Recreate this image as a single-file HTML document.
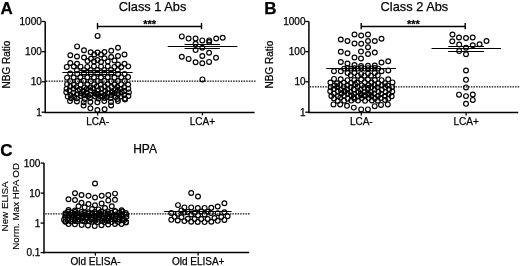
<!DOCTYPE html>
<html><head><meta charset="utf-8"><style>
html,body{margin:0;padding:0;background:#fff;}
svg{display:block;filter:grayscale(1);}
text{font-family:"Liberation Sans", sans-serif;fill:#000;stroke:#000;stroke-width:0.25px;}
</style></head><body>
<svg width="520" height="266" viewBox="0 0 520 266">
<rect width="520" height="266" fill="#fff"/>
<line x1="45.20" y1="21.40" x2="45.20" y2="112.90" stroke="#000" stroke-width="1.5"/>
<line x1="41.60" y1="21.50" x2="45.20" y2="21.50" stroke="#000" stroke-width="1.3"/>
<text x="41.80" y="25.00" font-size="10" text-anchor="end">1000</text>
<line x1="41.60" y1="51.70" x2="45.20" y2="51.70" stroke="#000" stroke-width="1.3"/>
<text x="41.80" y="55.20" font-size="10" text-anchor="end">100</text>
<line x1="41.60" y1="81.80" x2="45.20" y2="81.80" stroke="#000" stroke-width="1.3"/>
<text x="41.80" y="85.30" font-size="10" text-anchor="end">10</text>
<line x1="41.60" y1="112.20" x2="45.20" y2="112.20" stroke="#000" stroke-width="1.3"/>
<text x="41.80" y="115.70" font-size="10" text-anchor="end">1</text>
<line x1="44.50" y1="112.50" x2="254.60" y2="112.50" stroke="#000" stroke-width="1.3"/>
<line x1="97.60" y1="112.50" x2="97.60" y2="115.40" stroke="#000" stroke-width="1.3"/>
<line x1="202.40" y1="112.50" x2="202.40" y2="115.40" stroke="#000" stroke-width="1.3"/>
<text x="97.60" y="125.20" font-size="10" text-anchor="middle">LCA-</text>
<text x="202.40" y="125.20" font-size="10" text-anchor="middle">LCA+</text>
<line x1="46.00" y1="81.10" x2="256.00" y2="81.10" stroke="#111" stroke-width="1.2" stroke-dasharray="1.5,1.1"/>
<line x1="97.50" y1="26.50" x2="201.50" y2="26.50" stroke="#000" stroke-width="1.4"/>
<line x1="97.50" y1="23.00" x2="97.50" y2="29.20" stroke="#000" stroke-width="1.4"/>
<line x1="201.50" y1="23.00" x2="201.50" y2="29.20" stroke="#000" stroke-width="1.4"/>
<text x="149.70" y="28.00" font-size="11" text-anchor="middle" font-weight="bold">***</text>
<text x="152.50" y="10.60" font-size="12.8" text-anchor="middle">Class 1 Abs</text>
<text x="0.40" y="14.00" font-size="17" text-anchor="start" font-weight="bold">A</text>
<text x="10.40" y="64.60" font-size="10" text-anchor="middle" transform="rotate(-90 10.40 64.60)">NBG Ratio</text>
<line x1="308.90" y1="21.40" x2="308.90" y2="112.90" stroke="#000" stroke-width="1.5"/>
<line x1="305.30" y1="21.50" x2="308.90" y2="21.50" stroke="#000" stroke-width="1.3"/>
<text x="305.50" y="25.00" font-size="10" text-anchor="end">1000</text>
<line x1="305.30" y1="51.70" x2="308.90" y2="51.70" stroke="#000" stroke-width="1.3"/>
<text x="305.50" y="55.20" font-size="10" text-anchor="end">100</text>
<line x1="305.30" y1="81.80" x2="308.90" y2="81.80" stroke="#000" stroke-width="1.3"/>
<text x="305.50" y="85.30" font-size="10" text-anchor="end">10</text>
<line x1="305.30" y1="112.20" x2="308.90" y2="112.20" stroke="#000" stroke-width="1.3"/>
<text x="305.50" y="115.70" font-size="10" text-anchor="end">1</text>
<line x1="308.20" y1="112.50" x2="518.30" y2="112.50" stroke="#000" stroke-width="1.3"/>
<line x1="361.30" y1="112.50" x2="361.30" y2="115.40" stroke="#000" stroke-width="1.3"/>
<line x1="466.10" y1="112.50" x2="466.10" y2="115.40" stroke="#000" stroke-width="1.3"/>
<text x="361.30" y="125.20" font-size="10" text-anchor="middle">LCA-</text>
<text x="466.10" y="125.20" font-size="10" text-anchor="middle">LCA+</text>
<line x1="309.70" y1="86.80" x2="519.70" y2="86.80" stroke="#111" stroke-width="1.2" stroke-dasharray="1.5,1.1"/>
<line x1="361.20" y1="26.50" x2="465.20" y2="26.50" stroke="#000" stroke-width="1.4"/>
<line x1="361.20" y1="23.00" x2="361.20" y2="29.20" stroke="#000" stroke-width="1.4"/>
<line x1="465.20" y1="23.00" x2="465.20" y2="29.20" stroke="#000" stroke-width="1.4"/>
<text x="413.40" y="28.00" font-size="11" text-anchor="middle" font-weight="bold">***</text>
<text x="414.40" y="10.60" font-size="12.8" text-anchor="middle">Class 2 Abs</text>
<text x="264.20" y="14.00" font-size="17" text-anchor="start" font-weight="bold">B</text>
<text x="272.60" y="64.60" font-size="10" text-anchor="middle" transform="rotate(-90 272.60 64.60)">NBG Ratio</text>
<line x1="62.30" y1="72.50" x2="132.70" y2="72.50" stroke="#000" stroke-width="1.2"/>
<line x1="80.00" y1="70.50" x2="115.00" y2="70.50" stroke="#000" stroke-width="1.0"/>
<line x1="80.00" y1="74.50" x2="115.00" y2="74.50" stroke="#000" stroke-width="1.0"/>
<line x1="167.70" y1="46.50" x2="237.30" y2="46.50" stroke="#000" stroke-width="1.2"/>
<line x1="184.60" y1="44.50" x2="219.80" y2="44.50" stroke="#000" stroke-width="1.1"/>
<line x1="184.60" y1="48.50" x2="219.80" y2="48.50" stroke="#000" stroke-width="1.1"/>
<line x1="326.20" y1="68.50" x2="395.80" y2="68.50" stroke="#000" stroke-width="1.2"/>
<line x1="431.50" y1="48.50" x2="501.00" y2="48.50" stroke="#000" stroke-width="1.2"/>
<line x1="448.20" y1="46.50" x2="484.00" y2="46.50" stroke="#000" stroke-width="1.1"/>
<line x1="448.20" y1="51.50" x2="484.00" y2="51.50" stroke="#000" stroke-width="1.1"/>
<line x1="44.00" y1="163.00" x2="44.00" y2="253.20" stroke="#000" stroke-width="1.5"/>
<line x1="40.60" y1="163.10" x2="44.00" y2="163.10" stroke="#000" stroke-width="1.3"/>
<text x="40.40" y="166.60" font-size="10" text-anchor="end">100</text>
<line x1="40.60" y1="193.10" x2="44.00" y2="193.10" stroke="#000" stroke-width="1.3"/>
<text x="40.40" y="196.60" font-size="10" text-anchor="end">10</text>
<line x1="40.60" y1="223.10" x2="44.00" y2="223.10" stroke="#000" stroke-width="1.3"/>
<text x="40.40" y="226.60" font-size="10" text-anchor="end">1</text>
<line x1="40.60" y1="252.60" x2="44.00" y2="252.60" stroke="#000" stroke-width="1.3"/>
<text x="40.40" y="256.10" font-size="10" text-anchor="end">0.1</text>
<line x1="43.30" y1="252.50" x2="249.20" y2="252.50" stroke="#000" stroke-width="1.3"/>
<line x1="95.40" y1="252.60" x2="95.40" y2="255.60" stroke="#000" stroke-width="1.3"/>
<line x1="198.10" y1="252.60" x2="198.10" y2="255.60" stroke="#000" stroke-width="1.3"/>
<text x="95.50" y="265.10" font-size="10" text-anchor="middle">Old ELISA-</text>
<text x="198.20" y="265.10" font-size="10" text-anchor="middle">Old ELISA+</text>
<line x1="45.20" y1="213.80" x2="249.80" y2="213.80" stroke="#111" stroke-width="1.2" stroke-dasharray="1.5,1.1"/>
<text x="145.10" y="152.80" font-size="12" text-anchor="middle">HPA</text>
<text x="0.30" y="156.10" font-size="17" text-anchor="start" font-weight="bold">C</text>
<text x="8.40" y="206.40" font-size="9.8" text-anchor="middle" transform="rotate(-90 8.40 206.40)" style="stroke-width:0.15px">New ELISA</text>
<text x="18.90" y="206.40" font-size="9.8" text-anchor="middle" transform="rotate(-90 18.90 206.40)" style="stroke-width:0.15px">Norm. Max HPA OD</text>
<line x1="164.00" y1="211.50" x2="231.60" y2="211.50" stroke="#000" stroke-width="1.2"/>
<g fill="none" stroke="#000" stroke-width="1.15"><circle cx="181.80" cy="36.40" r="2.4"/><circle cx="188.60" cy="38.60" r="2.4"/><circle cx="195.60" cy="38.60" r="2.4"/><circle cx="202.30" cy="40.40" r="2.4"/><circle cx="209.20" cy="40.40" r="2.4"/><circle cx="209.20" cy="42.00" r="2.4"/><circle cx="216.20" cy="38.50" r="2.4"/><circle cx="222.70" cy="37.80" r="2.4"/><circle cx="195.60" cy="43.70" r="2.4"/><circle cx="202.30" cy="47.80" r="2.4"/><circle cx="195.60" cy="50.10" r="2.4"/><circle cx="209.10" cy="52.80" r="2.4"/><circle cx="181.80" cy="56.80" r="2.4"/><circle cx="188.60" cy="58.90" r="2.4"/><circle cx="202.30" cy="56.00" r="2.4"/><circle cx="216.00" cy="57.70" r="2.4"/><circle cx="195.60" cy="62.20" r="2.4"/><circle cx="202.30" cy="63.20" r="2.4"/><circle cx="209.10" cy="61.90" r="2.4"/><circle cx="202.40" cy="79.40" r="2.4"/><circle cx="452.50" cy="34.50" r="2.4"/><circle cx="459.00" cy="37.50" r="2.4"/><circle cx="466.00" cy="38.00" r="2.4"/><circle cx="472.70" cy="37.50" r="2.4"/><circle cx="486.50" cy="41.00" r="2.4"/><circle cx="452.30" cy="41.30" r="2.4"/><circle cx="459.20" cy="44.60" r="2.4"/><circle cx="472.80" cy="45.20" r="2.4"/><circle cx="479.60" cy="44.20" r="2.4"/><circle cx="466.00" cy="47.70" r="2.4"/><circle cx="459.20" cy="51.10" r="2.4"/><circle cx="466.00" cy="54.30" r="2.4"/><circle cx="466.00" cy="70.50" r="2.4"/><circle cx="466.00" cy="79.80" r="2.4"/><circle cx="466.00" cy="87.40" r="2.4"/><circle cx="459.00" cy="94.70" r="2.4"/><circle cx="466.00" cy="96.10" r="2.4"/><circle cx="472.80" cy="94.50" r="2.4"/><circle cx="472.80" cy="99.90" r="2.4"/><circle cx="466.00" cy="103.80" r="2.4"/><circle cx="347.60" cy="68.00" r="2.4"/><circle cx="354.40" cy="68.20" r="2.4"/><circle cx="361.20" cy="68.00" r="2.4"/><circle cx="368.00" cy="68.20" r="2.4"/><circle cx="374.80" cy="68.00" r="2.4"/><circle cx="344.20" cy="68.60" r="2.4"/><circle cx="351.00" cy="68.60" r="2.4"/><circle cx="357.80" cy="68.60" r="2.4"/><circle cx="364.60" cy="68.60" r="2.4"/><circle cx="371.40" cy="68.60" r="2.4"/><circle cx="378.20" cy="68.60" r="2.4"/><circle cx="334.00" cy="71.20" r="2.4"/><circle cx="340.80" cy="71.30" r="2.4"/><circle cx="347.60" cy="73.00" r="2.4"/><circle cx="354.40" cy="73.00" r="2.4"/><circle cx="361.20" cy="73.90" r="2.4"/><circle cx="368.00" cy="73.50" r="2.4"/><circle cx="374.80" cy="73.00" r="2.4"/><circle cx="381.60" cy="71.20" r="2.4"/><circle cx="388.30" cy="70.50" r="2.4"/><circle cx="350.80" cy="75.30" r="2.4"/><circle cx="357.80" cy="75.70" r="2.4"/><circle cx="364.40" cy="75.70" r="2.4"/><circle cx="371.00" cy="75.70" r="2.4"/><circle cx="377.80" cy="75.30" r="2.4"/><circle cx="334.00" cy="78.90" r="2.4"/><circle cx="340.70" cy="79.30" r="2.4"/><circle cx="347.50" cy="80.20" r="2.4"/><circle cx="354.30" cy="80.20" r="2.4"/><circle cx="361.20" cy="79.50" r="2.4"/><circle cx="368.00" cy="79.50" r="2.4"/><circle cx="374.80" cy="80.00" r="2.4"/><circle cx="381.60" cy="80.20" r="2.4"/><circle cx="388.20" cy="79.30" r="2.4"/><circle cx="333.50" cy="104.40" r="2.4"/><circle cx="340.20" cy="104.40" r="2.4"/><circle cx="347.00" cy="105.80" r="2.4"/><circle cx="353.80" cy="107.60" r="2.4"/><circle cx="361.20" cy="109.40" r="2.4"/><circle cx="367.90" cy="109.40" r="2.4"/><circle cx="374.70" cy="106.20" r="2.4"/><circle cx="381.00" cy="104.90" r="2.4"/><circle cx="387.80" cy="104.40" r="2.4"/><circle cx="97.60" cy="35.90" r="2.4"/><circle cx="77.10" cy="46.40" r="2.4"/><circle cx="118.00" cy="47.80" r="2.4"/><circle cx="84.00" cy="50.20" r="2.4"/><circle cx="111.20" cy="50.70" r="2.4"/><circle cx="90.70" cy="52.20" r="2.4"/><circle cx="97.50" cy="52.50" r="2.4"/><circle cx="104.50" cy="52.00" r="2.4"/><circle cx="70.30" cy="55.30" r="2.4"/><circle cx="94.30" cy="54.50" r="2.4"/><circle cx="101.00" cy="54.50" r="2.4"/><circle cx="124.50" cy="54.50" r="2.4"/><circle cx="77.00" cy="56.50" r="2.4"/><circle cx="118.00" cy="56.00" r="2.4"/><circle cx="111.20" cy="57.00" r="2.4"/><circle cx="84.00" cy="57.50" r="2.4"/><circle cx="104.50" cy="58.20" r="2.4"/><circle cx="91.00" cy="58.80" r="2.4"/><circle cx="97.50" cy="60.00" r="2.4"/><circle cx="87.50" cy="61.00" r="2.4"/><circle cx="94.00" cy="61.50" r="2.4"/><circle cx="101.00" cy="62.00" r="2.4"/><circle cx="107.80" cy="61.50" r="2.4"/><circle cx="114.50" cy="60.50" r="2.4"/><circle cx="70.30" cy="63.00" r="2.4"/><circle cx="77.00" cy="63.80" r="2.4"/><circle cx="124.50" cy="63.70" r="2.4"/><circle cx="118.00" cy="64.50" r="2.4"/><circle cx="90.40" cy="108.30" r="2.4"/><circle cx="97.40" cy="110.00" r="2.4"/><circle cx="104.60" cy="109.30" r="2.4"/><circle cx="83.60" cy="105.40" r="2.4"/><circle cx="111.10" cy="105.40" r="2.4"/><circle cx="70.00" cy="101.10" r="2.4"/><circle cx="76.90" cy="101.40" r="2.4"/><circle cx="83.70" cy="102.20" r="2.4"/><circle cx="90.40" cy="101.90" r="2.4"/><circle cx="97.40" cy="102.30" r="2.4"/><circle cx="104.30" cy="101.10" r="2.4"/><circle cx="111.00" cy="102.00" r="2.4"/><circle cx="117.90" cy="101.10" r="2.4"/><circle cx="125.00" cy="99.40" r="2.4"/><circle cx="354.50" cy="34.50" r="2.4"/><circle cx="361.20" cy="35.50" r="2.4"/><circle cx="368.00" cy="34.50" r="2.4"/><circle cx="340.80" cy="39.50" r="2.4"/><circle cx="381.50" cy="38.80" r="2.4"/><circle cx="347.50" cy="41.00" r="2.4"/><circle cx="368.00" cy="41.00" r="2.4"/><circle cx="374.80" cy="41.00" r="2.4"/><circle cx="354.50" cy="43.50" r="2.4"/><circle cx="361.20" cy="43.80" r="2.4"/><circle cx="368.00" cy="47.30" r="2.4"/><circle cx="340.80" cy="51.80" r="2.4"/><circle cx="361.00" cy="51.60" r="2.4"/><circle cx="374.80" cy="52.60" r="2.4"/><circle cx="347.50" cy="53.20" r="2.4"/><circle cx="368.00" cy="54.00" r="2.4"/><circle cx="354.50" cy="57.50" r="2.4"/><circle cx="361.00" cy="58.50" r="2.4"/><circle cx="340.80" cy="62.00" r="2.4"/><circle cx="381.50" cy="62.50" r="2.4"/><circle cx="388.20" cy="61.20" r="2.4"/><circle cx="347.50" cy="63.50" r="2.4"/><circle cx="354.50" cy="65.00" r="2.4"/><circle cx="361.00" cy="66.00" r="2.4"/><circle cx="368.00" cy="65.70" r="2.4"/><circle cx="374.80" cy="65.50" r="2.4"/><circle cx="95.00" cy="183.50" r="2.4"/><circle cx="75.00" cy="193.20" r="2.4"/><circle cx="81.50" cy="195.00" r="2.4"/><circle cx="88.50" cy="195.80" r="2.4"/><circle cx="95.00" cy="197.50" r="2.4"/><circle cx="101.70" cy="195.70" r="2.4"/><circle cx="108.30" cy="195.00" r="2.4"/><circle cx="115.00" cy="193.60" r="2.4"/><circle cx="68.50" cy="199.20" r="2.4"/><circle cx="75.00" cy="200.00" r="2.4"/><circle cx="108.30" cy="200.40" r="2.4"/><circle cx="115.00" cy="199.80" r="2.4"/><circle cx="81.50" cy="202.80" r="2.4"/><circle cx="88.50" cy="204.00" r="2.4"/><circle cx="95.00" cy="205.20" r="2.4"/><circle cx="101.60" cy="203.50" r="2.4"/><circle cx="78.50" cy="206.20" r="2.4"/><circle cx="84.60" cy="207.30" r="2.4"/><circle cx="92.00" cy="209.00" r="2.4"/><circle cx="98.60" cy="209.40" r="2.4"/><circle cx="105.00" cy="208.00" r="2.4"/><circle cx="111.80" cy="206.20" r="2.4"/><circle cx="68.50" cy="210.00" r="2.4"/><circle cx="75.00" cy="210.50" r="2.4"/><circle cx="115.00" cy="210.90" r="2.4"/><circle cx="121.60" cy="210.20" r="2.4"/><circle cx="191.20" cy="193.00" r="2.4"/><circle cx="198.00" cy="196.50" r="2.4"/><circle cx="224.40" cy="203.20" r="2.4"/><circle cx="178.00" cy="205.10" r="2.4"/><circle cx="184.40" cy="207.40" r="2.4"/><circle cx="191.20" cy="207.40" r="2.4"/><circle cx="197.80" cy="208.00" r="2.4"/><circle cx="204.60" cy="207.90" r="2.4"/><circle cx="211.30" cy="207.70" r="2.4"/><circle cx="217.70" cy="206.50" r="2.4"/><circle cx="171.30" cy="213.00" r="2.4"/><circle cx="177.70" cy="213.80" r="2.4"/><circle cx="181.40" cy="210.40" r="2.4"/><circle cx="184.40" cy="212.60" r="2.4"/><circle cx="187.80" cy="211.90" r="2.4"/><circle cx="194.60" cy="212.60" r="2.4"/><circle cx="201.40" cy="211.50" r="2.4"/><circle cx="207.70" cy="211.70" r="2.4"/><circle cx="210.90" cy="213.10" r="2.4"/><circle cx="217.70" cy="213.10" r="2.4"/><circle cx="224.40" cy="212.20" r="2.4"/><circle cx="191.20" cy="214.50" r="2.4"/><circle cx="198.00" cy="215.30" r="2.4"/><circle cx="204.60" cy="214.40" r="2.4"/><circle cx="174.60" cy="216.80" r="2.4"/><circle cx="181.40" cy="217.20" r="2.4"/><circle cx="187.80" cy="218.70" r="2.4"/><circle cx="194.60" cy="219.00" r="2.4"/><circle cx="201.20" cy="219.00" r="2.4"/><circle cx="207.70" cy="219.00" r="2.4"/><circle cx="214.50" cy="218.00" r="2.4"/><circle cx="221.30" cy="217.00" r="2.4"/><circle cx="227.60" cy="216.20" r="2.4"/><circle cx="171.30" cy="219.80" r="2.4"/><circle cx="177.70" cy="220.50" r="2.4"/><circle cx="184.40" cy="221.10" r="2.4"/><circle cx="191.20" cy="221.70" r="2.4"/><circle cx="197.70" cy="221.90" r="2.4"/><circle cx="204.60" cy="222.10" r="2.4"/><circle cx="211.30" cy="221.70" r="2.4"/><circle cx="217.70" cy="220.80" r="2.4"/><circle cx="224.40" cy="219.90" r="2.4"/><circle cx="66.75" cy="66.94" r="2.4"/><circle cx="73.81" cy="66.53" r="2.4"/><circle cx="80.50" cy="66.66" r="2.4"/><circle cx="87.36" cy="66.90" r="2.4"/><circle cx="93.94" cy="66.37" r="2.4"/><circle cx="101.03" cy="66.65" r="2.4"/><circle cx="107.80" cy="66.35" r="2.4"/><circle cx="114.48" cy="66.86" r="2.4"/><circle cx="121.19" cy="67.01" r="2.4"/><circle cx="128.26" cy="66.37" r="2.4"/><circle cx="76.91" cy="70.23" r="2.4"/><circle cx="84.08" cy="70.12" r="2.4"/><circle cx="90.59" cy="70.15" r="2.4"/><circle cx="97.31" cy="70.01" r="2.4"/><circle cx="104.28" cy="70.20" r="2.4"/><circle cx="110.99" cy="70.01" r="2.4"/><circle cx="117.79" cy="70.17" r="2.4"/><circle cx="70.22" cy="73.57" r="2.4"/><circle cx="77.24" cy="73.94" r="2.4"/><circle cx="83.96" cy="73.68" r="2.4"/><circle cx="90.90" cy="74.15" r="2.4"/><circle cx="97.35" cy="73.78" r="2.4"/><circle cx="104.39" cy="74.05" r="2.4"/><circle cx="111.27" cy="73.85" r="2.4"/><circle cx="118.03" cy="74.02" r="2.4"/><circle cx="124.62" cy="73.96" r="2.4"/><circle cx="67.05" cy="77.64" r="2.4"/><circle cx="73.70" cy="77.46" r="2.4"/><circle cx="80.31" cy="77.22" r="2.4"/><circle cx="87.42" cy="77.34" r="2.4"/><circle cx="93.97" cy="77.43" r="2.4"/><circle cx="100.98" cy="77.52" r="2.4"/><circle cx="107.65" cy="77.36" r="2.4"/><circle cx="114.50" cy="77.59" r="2.4"/><circle cx="121.31" cy="77.33" r="2.4"/><circle cx="128.10" cy="77.07" r="2.4"/><circle cx="70.12" cy="81.14" r="2.4"/><circle cx="77.29" cy="81.07" r="2.4"/><circle cx="83.86" cy="80.77" r="2.4"/><circle cx="90.70" cy="81.34" r="2.4"/><circle cx="97.61" cy="81.03" r="2.4"/><circle cx="104.44" cy="80.81" r="2.4"/><circle cx="111.11" cy="81.32" r="2.4"/><circle cx="117.93" cy="80.97" r="2.4"/><circle cx="124.61" cy="81.03" r="2.4"/><circle cx="67.08" cy="84.15" r="2.4"/><circle cx="73.81" cy="84.72" r="2.4"/><circle cx="80.65" cy="84.67" r="2.4"/><circle cx="87.42" cy="84.51" r="2.4"/><circle cx="94.12" cy="84.45" r="2.4"/><circle cx="100.72" cy="84.76" r="2.4"/><circle cx="107.73" cy="84.29" r="2.4"/><circle cx="114.50" cy="84.49" r="2.4"/><circle cx="121.24" cy="84.39" r="2.4"/><circle cx="128.12" cy="84.59" r="2.4"/><circle cx="70.22" cy="86.43" r="2.4"/><circle cx="76.45" cy="87.10" r="2.4"/><circle cx="84.50" cy="87.36" r="2.4"/><circle cx="90.21" cy="87.41" r="2.4"/><circle cx="96.67" cy="86.42" r="2.4"/><circle cx="104.81" cy="86.70" r="2.4"/><circle cx="111.35" cy="86.81" r="2.4"/><circle cx="117.22" cy="87.03" r="2.4"/><circle cx="124.25" cy="87.25" r="2.4"/><circle cx="66.54" cy="88.87" r="2.4"/><circle cx="73.47" cy="88.81" r="2.4"/><circle cx="79.72" cy="89.38" r="2.4"/><circle cx="86.72" cy="89.03" r="2.4"/><circle cx="93.14" cy="88.32" r="2.4"/><circle cx="101.34" cy="88.49" r="2.4"/><circle cx="108.06" cy="88.95" r="2.4"/><circle cx="115.45" cy="89.26" r="2.4"/><circle cx="120.75" cy="89.08" r="2.4"/><circle cx="128.25" cy="88.69" r="2.4"/><circle cx="69.42" cy="90.56" r="2.4"/><circle cx="77.85" cy="90.57" r="2.4"/><circle cx="83.52" cy="91.33" r="2.4"/><circle cx="90.53" cy="90.50" r="2.4"/><circle cx="98.26" cy="90.25" r="2.4"/><circle cx="105.22" cy="90.88" r="2.4"/><circle cx="111.84" cy="91.37" r="2.4"/><circle cx="117.92" cy="90.65" r="2.4"/><circle cx="124.11" cy="91.01" r="2.4"/><circle cx="66.29" cy="92.23" r="2.4"/><circle cx="73.29" cy="92.70" r="2.4"/><circle cx="81.24" cy="93.18" r="2.4"/><circle cx="86.70" cy="92.49" r="2.4"/><circle cx="94.67" cy="92.51" r="2.4"/><circle cx="101.25" cy="93.11" r="2.4"/><circle cx="107.39" cy="93.16" r="2.4"/><circle cx="114.47" cy="93.28" r="2.4"/><circle cx="121.75" cy="92.20" r="2.4"/><circle cx="128.92" cy="92.36" r="2.4"/><circle cx="70.50" cy="95.01" r="2.4"/><circle cx="76.78" cy="94.35" r="2.4"/><circle cx="84.11" cy="95.15" r="2.4"/><circle cx="89.97" cy="94.66" r="2.4"/><circle cx="96.58" cy="94.09" r="2.4"/><circle cx="104.88" cy="94.99" r="2.4"/><circle cx="111.33" cy="94.94" r="2.4"/><circle cx="118.04" cy="94.27" r="2.4"/><circle cx="124.23" cy="95.07" r="2.4"/><circle cx="67.75" cy="96.45" r="2.4"/><circle cx="74.27" cy="96.89" r="2.4"/><circle cx="80.84" cy="96.01" r="2.4"/><circle cx="88.07" cy="95.95" r="2.4"/><circle cx="95.08" cy="96.41" r="2.4"/><circle cx="100.23" cy="96.19" r="2.4"/><circle cx="106.91" cy="96.99" r="2.4"/><circle cx="115.44" cy="96.99" r="2.4"/><circle cx="120.81" cy="96.47" r="2.4"/><circle cx="128.40" cy="95.95" r="2.4"/><circle cx="71.27" cy="98.15" r="2.4"/><circle cx="77.00" cy="98.18" r="2.4"/><circle cx="84.73" cy="98.96" r="2.4"/><circle cx="89.92" cy="98.06" r="2.4"/><circle cx="98.46" cy="98.45" r="2.4"/><circle cx="104.62" cy="98.11" r="2.4"/><circle cx="110.71" cy="98.10" r="2.4"/><circle cx="117.46" cy="98.98" r="2.4"/><circle cx="125.00" cy="98.57" r="2.4"/><circle cx="330.42" cy="82.57" r="2.4"/><circle cx="337.11" cy="83.22" r="2.4"/><circle cx="343.88" cy="82.60" r="2.4"/><circle cx="351.13" cy="82.92" r="2.4"/><circle cx="357.03" cy="82.49" r="2.4"/><circle cx="364.68" cy="82.29" r="2.4"/><circle cx="371.62" cy="82.55" r="2.4"/><circle cx="378.19" cy="83.24" r="2.4"/><circle cx="385.00" cy="83.15" r="2.4"/><circle cx="392.52" cy="82.41" r="2.4"/><circle cx="334.78" cy="85.39" r="2.4"/><circle cx="340.17" cy="85.02" r="2.4"/><circle cx="347.27" cy="85.47" r="2.4"/><circle cx="355.06" cy="84.44" r="2.4"/><circle cx="361.84" cy="85.36" r="2.4"/><circle cx="368.55" cy="85.30" r="2.4"/><circle cx="374.29" cy="84.92" r="2.4"/><circle cx="381.94" cy="85.20" r="2.4"/><circle cx="387.70" cy="85.56" r="2.4"/><circle cx="330.68" cy="87.25" r="2.4"/><circle cx="337.33" cy="87.07" r="2.4"/><circle cx="343.81" cy="86.63" r="2.4"/><circle cx="350.87" cy="87.28" r="2.4"/><circle cx="357.57" cy="86.77" r="2.4"/><circle cx="364.21" cy="87.59" r="2.4"/><circle cx="371.24" cy="87.33" r="2.4"/><circle cx="377.41" cy="87.23" r="2.4"/><circle cx="385.24" cy="87.13" r="2.4"/><circle cx="392.17" cy="86.89" r="2.4"/><circle cx="333.97" cy="89.07" r="2.4"/><circle cx="340.90" cy="89.89" r="2.4"/><circle cx="347.24" cy="89.58" r="2.4"/><circle cx="353.71" cy="89.41" r="2.4"/><circle cx="360.66" cy="89.72" r="2.4"/><circle cx="367.70" cy="89.63" r="2.4"/><circle cx="374.59" cy="89.64" r="2.4"/><circle cx="381.75" cy="89.83" r="2.4"/><circle cx="389.14" cy="89.49" r="2.4"/><circle cx="330.20" cy="91.26" r="2.4"/><circle cx="337.81" cy="91.06" r="2.4"/><circle cx="344.55" cy="91.42" r="2.4"/><circle cx="350.46" cy="91.88" r="2.4"/><circle cx="358.57" cy="91.97" r="2.4"/><circle cx="364.23" cy="92.10" r="2.4"/><circle cx="370.82" cy="91.93" r="2.4"/><circle cx="378.46" cy="91.84" r="2.4"/><circle cx="385.68" cy="92.17" r="2.4"/><circle cx="392.28" cy="91.52" r="2.4"/><circle cx="333.72" cy="93.35" r="2.4"/><circle cx="341.54" cy="93.34" r="2.4"/><circle cx="347.45" cy="93.34" r="2.4"/><circle cx="354.00" cy="94.10" r="2.4"/><circle cx="360.70" cy="93.73" r="2.4"/><circle cx="368.20" cy="93.93" r="2.4"/><circle cx="374.33" cy="93.54" r="2.4"/><circle cx="381.24" cy="93.90" r="2.4"/><circle cx="388.69" cy="94.15" r="2.4"/><circle cx="331.36" cy="96.05" r="2.4"/><circle cx="337.97" cy="96.32" r="2.4"/><circle cx="344.01" cy="95.74" r="2.4"/><circle cx="351.49" cy="95.54" r="2.4"/><circle cx="357.87" cy="96.56" r="2.4"/><circle cx="365.36" cy="95.56" r="2.4"/><circle cx="371.52" cy="95.77" r="2.4"/><circle cx="377.97" cy="96.03" r="2.4"/><circle cx="384.91" cy="95.94" r="2.4"/><circle cx="391.64" cy="96.34" r="2.4"/><circle cx="333.99" cy="98.38" r="2.4"/><circle cx="340.33" cy="97.60" r="2.4"/><circle cx="347.76" cy="98.66" r="2.4"/><circle cx="354.42" cy="98.78" r="2.4"/><circle cx="361.74" cy="98.09" r="2.4"/><circle cx="368.78" cy="97.97" r="2.4"/><circle cx="374.99" cy="98.24" r="2.4"/><circle cx="380.81" cy="98.07" r="2.4"/><circle cx="388.25" cy="98.63" r="2.4"/><circle cx="337.77" cy="100.88" r="2.4"/><circle cx="344.19" cy="100.69" r="2.4"/><circle cx="351.24" cy="100.56" r="2.4"/><circle cx="358.01" cy="100.56" r="2.4"/><circle cx="365.05" cy="100.82" r="2.4"/><circle cx="371.90" cy="100.53" r="2.4"/><circle cx="377.82" cy="100.65" r="2.4"/><circle cx="385.07" cy="99.98" r="2.4"/><circle cx="68.26" cy="211.77" r="2.4"/><circle cx="75.02" cy="212.04" r="2.4"/><circle cx="81.35" cy="211.96" r="2.4"/><circle cx="88.42" cy="212.25" r="2.4"/><circle cx="94.86" cy="211.99" r="2.4"/><circle cx="101.10" cy="211.51" r="2.4"/><circle cx="107.95" cy="211.37" r="2.4"/><circle cx="115.26" cy="211.67" r="2.4"/><circle cx="122.47" cy="211.47" r="2.4"/><circle cx="65.46" cy="213.22" r="2.4"/><circle cx="71.91" cy="212.63" r="2.4"/><circle cx="77.56" cy="213.19" r="2.4"/><circle cx="84.64" cy="212.62" r="2.4"/><circle cx="92.25" cy="213.24" r="2.4"/><circle cx="99.41" cy="213.02" r="2.4"/><circle cx="104.99" cy="213.16" r="2.4"/><circle cx="111.11" cy="213.03" r="2.4"/><circle cx="119.69" cy="212.84" r="2.4"/><circle cx="125.80" cy="213.01" r="2.4"/><circle cx="68.36" cy="213.64" r="2.4"/><circle cx="75.52" cy="213.86" r="2.4"/><circle cx="81.08" cy="214.22" r="2.4"/><circle cx="87.93" cy="213.61" r="2.4"/><circle cx="95.08" cy="213.60" r="2.4"/><circle cx="100.73" cy="214.10" r="2.4"/><circle cx="107.82" cy="213.53" r="2.4"/><circle cx="115.96" cy="214.46" r="2.4"/><circle cx="121.52" cy="214.34" r="2.4"/><circle cx="65.41" cy="214.70" r="2.4"/><circle cx="71.64" cy="214.98" r="2.4"/><circle cx="77.71" cy="215.42" r="2.4"/><circle cx="85.24" cy="214.81" r="2.4"/><circle cx="91.34" cy="215.19" r="2.4"/><circle cx="99.64" cy="214.65" r="2.4"/><circle cx="106.01" cy="214.92" r="2.4"/><circle cx="112.04" cy="215.52" r="2.4"/><circle cx="119.46" cy="215.36" r="2.4"/><circle cx="126.24" cy="214.62" r="2.4"/><circle cx="68.70" cy="215.76" r="2.4"/><circle cx="74.11" cy="216.16" r="2.4"/><circle cx="82.67" cy="215.74" r="2.4"/><circle cx="89.22" cy="215.74" r="2.4"/><circle cx="94.18" cy="215.79" r="2.4"/><circle cx="102.13" cy="216.44" r="2.4"/><circle cx="109.33" cy="216.36" r="2.4"/><circle cx="115.51" cy="216.67" r="2.4"/><circle cx="121.28" cy="215.76" r="2.4"/><circle cx="65.17" cy="217.15" r="2.4"/><circle cx="71.79" cy="217.32" r="2.4"/><circle cx="78.00" cy="217.21" r="2.4"/><circle cx="85.96" cy="217.22" r="2.4"/><circle cx="92.26" cy="217.54" r="2.4"/><circle cx="99.06" cy="217.05" r="2.4"/><circle cx="104.31" cy="217.72" r="2.4"/><circle cx="112.70" cy="216.85" r="2.4"/><circle cx="119.30" cy="217.27" r="2.4"/><circle cx="126.41" cy="216.84" r="2.4"/><circle cx="68.16" cy="218.03" r="2.4"/><circle cx="75.50" cy="218.78" r="2.4"/><circle cx="81.76" cy="217.99" r="2.4"/><circle cx="87.41" cy="217.93" r="2.4"/><circle cx="95.66" cy="218.21" r="2.4"/><circle cx="102.51" cy="218.71" r="2.4"/><circle cx="108.03" cy="218.32" r="2.4"/><circle cx="115.34" cy="218.23" r="2.4"/><circle cx="122.58" cy="218.86" r="2.4"/><circle cx="64.00" cy="219.65" r="2.4"/><circle cx="72.82" cy="219.72" r="2.4"/><circle cx="78.83" cy="219.54" r="2.4"/><circle cx="85.85" cy="219.29" r="2.4"/><circle cx="91.44" cy="219.52" r="2.4"/><circle cx="98.08" cy="219.57" r="2.4"/><circle cx="105.91" cy="219.65" r="2.4"/><circle cx="111.37" cy="219.35" r="2.4"/><circle cx="119.15" cy="219.50" r="2.4"/><circle cx="124.41" cy="219.91" r="2.4"/><circle cx="67.89" cy="220.17" r="2.4"/><circle cx="74.95" cy="221.01" r="2.4"/><circle cx="82.83" cy="220.92" r="2.4"/><circle cx="89.41" cy="220.90" r="2.4"/><circle cx="95.16" cy="220.68" r="2.4"/><circle cx="102.48" cy="220.80" r="2.4"/><circle cx="108.17" cy="221.04" r="2.4"/><circle cx="114.97" cy="220.56" r="2.4"/><circle cx="121.98" cy="220.27" r="2.4"/><circle cx="65.40" cy="221.76" r="2.4"/><circle cx="70.89" cy="221.61" r="2.4"/><circle cx="77.27" cy="221.30" r="2.4"/><circle cx="84.49" cy="221.31" r="2.4"/><circle cx="92.07" cy="221.73" r="2.4"/><circle cx="97.42" cy="222.05" r="2.4"/><circle cx="104.37" cy="222.06" r="2.4"/><circle cx="111.53" cy="222.05" r="2.4"/><circle cx="118.03" cy="222.09" r="2.4"/><circle cx="126.13" cy="222.09" r="2.4"/><circle cx="68.60" cy="223.90" r="2.4"/><circle cx="74.90" cy="224.30" r="2.4"/><circle cx="81.70" cy="224.90" r="2.4"/><circle cx="88.00" cy="225.50" r="2.4"/><circle cx="94.70" cy="226.10" r="2.4"/><circle cx="101.50" cy="225.20" r="2.4"/><circle cx="108.20" cy="224.50" r="2.4"/><circle cx="115.00" cy="224.00" r="2.4"/><circle cx="121.50" cy="224.00" r="2.4"/><circle cx="126.00" cy="222.50" r="2.4"/><circle cx="65.50" cy="221.50" r="2.4"/><circle cx="95.83" cy="93.72" r="2.4"/><circle cx="112.35" cy="92.59" r="2.4"/><circle cx="97.77" cy="94.05" r="2.4"/><circle cx="86.46" cy="93.14" r="2.4"/><circle cx="102.05" cy="96.52" r="2.4"/><circle cx="83.29" cy="90.64" r="2.4"/><circle cx="361.08" cy="95.20" r="2.4"/><circle cx="367.99" cy="88.00" r="2.4"/><circle cx="344.39" cy="91.25" r="2.4"/><circle cx="353.87" cy="97.34" r="2.4"/><circle cx="368.86" cy="94.42" r="2.4"/><circle cx="364.09" cy="95.26" r="2.4"/></g>
</svg></body></html>
